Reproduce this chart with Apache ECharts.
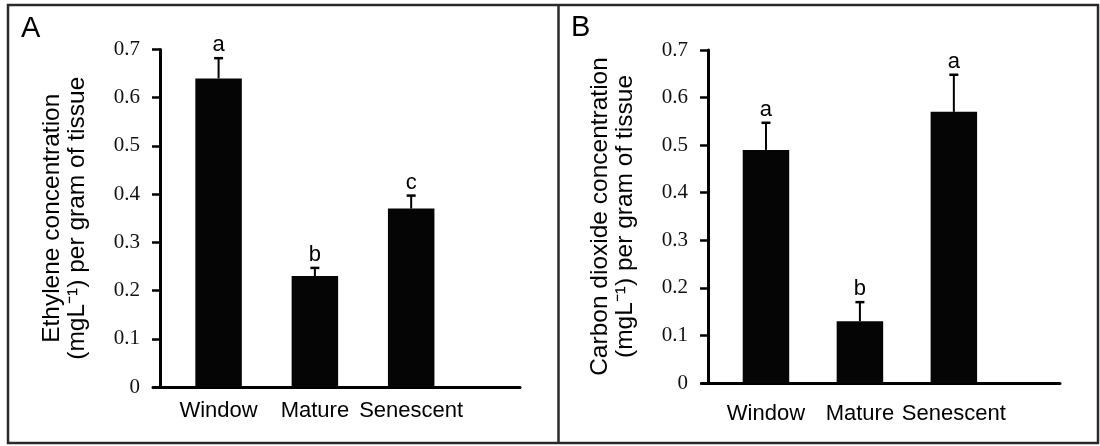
<!DOCTYPE html>
<html>
<head>
<meta charset="utf-8">
<script src="https://cdn.jsdelivr.net/npm/echarts@6/dist/echarts.min.js"></script>
<style>html,body{margin:0;padding:0;background:#fff}#c{width:1100px;height:446px}</style>
</head>
<body>
<div id="c"></div>
<script>
const categories = ['Window', 'Mature', 'Senescent'];
const ethylene = [0.64, 0.23, 0.37];
const ethyleneErr = [0.042, 0.017, 0.027];
const ethyleneLetters = ['a', 'b', 'c'];
const co2 = [0.49, 0.13, 0.57];
const co2Err = [0.057, 0.04, 0.078];
const co2Letters = ['a', 'b', 'a'];
const yNameA = 'Ethylene concentration\n(mgL\u207B\u00B9) per gram of tissue';
const yNameB = 'Carbon dioxide concentration\n(mgL\u207B\u00B9) per gram of tissue';

const SANS = 'Liberation Sans, Arial, sans-serif';
const SERIF = 'Liberation Serif, Times New Roman, serif';

const chart = echarts.init(document.getElementById('c'), null, {renderer: 'canvas'});

function xAxis(idx, margin) {
  return {
    gridIndex: idx, type: 'value', min: 0.319, max: 4.13,
    splitLine: {show: false},
    axisLine: {show: true, lineStyle: {color: '#000', width: 3}},
    axisTick: {show: false},
    axisLabel: {
      show: true, customValues: [1, 2, 3], margin: margin,
      fontFamily: SANS, fontSize: 22, color: '#000',
      formatter: v => categories[Math.round(v) - 1] || ''
    }
  };
}
function yAxis(idx, name) {
  return {
    gridIndex: idx, type: 'value', min: 0, max: 0.7, interval: 0.1, offset: -7,
    name: name, nameLocation: 'middle', nameRotate: 90, nameGap: 70,
    nameTextStyle: {fontFamily: SANS, fontSize: 24.5, color: '#000', lineHeight: 25},
    splitLine: {show: false},
    axisLine: {show: true, lineStyle: {color: '#000', width: 3}},
    axisTick: {show: true, length: 8, lineStyle: {color: '#000', width: 2.5}},
    axisLabel: {margin: 20, fontFamily: SERIF, fontSize: 21, color: '#111',
      formatter: v => String(Math.round(v * 10) / 10)}
  };
}
function barSeries(idx, vals) {
  return {
    type: 'bar', xAxisIndex: idx, yAxisIndex: idx, barWidth: 46.5,
    itemStyle: {color: '#050505'}, silent: true,
    data: vals.map((v, i) => [i + 1, v])
  };
}
function errSeries(idx, vals, errs, letters) {
  return {
    type: 'custom', xAxisIndex: idx, yAxisIndex: idx, silent: true, clip: false, z: 5,
    data: vals.map((v, i) => [i + 1, v, errs[i]]),
    renderItem: function (params, api) {
      const x = api.value(0), v = api.value(1), e = api.value(2);
      const p0 = api.coord([x, v]);
      const p1 = api.coord([x, v + e]);
      return {
        type: 'group',
        children: [
          {type: 'line', shape: {x1: p0[0], y1: p0[1], x2: p1[0], y2: p1[1]}, style: {stroke: '#000', lineWidth: 2}},
          {type: 'line', shape: {x1: p1[0] - 4.5, y1: p1[1], x2: p1[0] + 4.5, y2: p1[1]}, style: {stroke: '#000', lineWidth: 2.5}},
          {type: 'text', x: p1[0], y: p1[1] - 2,
            style: {text: letters[params.dataIndex], textAlign: 'center', textVerticalAlign: 'bottom',
              fontFamily: SANS, fontSize: 22, fill: '#000'}}
        ]
      };
    }
  };
}

const xa0 = xAxis(0, 13), xa1 = xAxis(1, 20);
const ya0 = yAxis(0, yNameA), ya1 = yAxis(1, yNameB);
ya1.offset = -6;

chart.setOption({
  animation: false,
  backgroundColor: '#fff',
  grid: [
    {left: 153, right: 580, top: 49.5, bottom: 59, containLabel: false},
    {left: 702, right: 40, top: 50, bottom: 63, containLabel: false}
  ],
  xAxis: [xa0, xa1],
  yAxis: [ya0, ya1],
  series: [
    barSeries(0, ethylene), errSeries(0, ethylene, ethyleneErr, ethyleneLetters),
    barSeries(1, co2), errSeries(1, co2, co2Err, co2Letters)
  ],
  graphic: [
    {type: 'rect', shape: {x: 8, y: 5, width: 1090, height: 438}, style: {fill: 'none', stroke: '#2a2a2a', lineWidth: 2.5}, silent: true},
    {type: 'line', shape: {x1: 558.5, y1: 5, x2: 558.5, y2: 443}, style: {stroke: '#2a2a2a', lineWidth: 2.5}, silent: true},
    {type: 'text', left: 21, top: 14, style: {text: 'A', fontFamily: SANS, fontSize: 29, fill: '#000'}},
    {type: 'text', left: 571, top: 13, style: {text: 'B', fontFamily: SANS, fontSize: 29, fill: '#000'}}
  ]
});
</script>
</body>
</html>
